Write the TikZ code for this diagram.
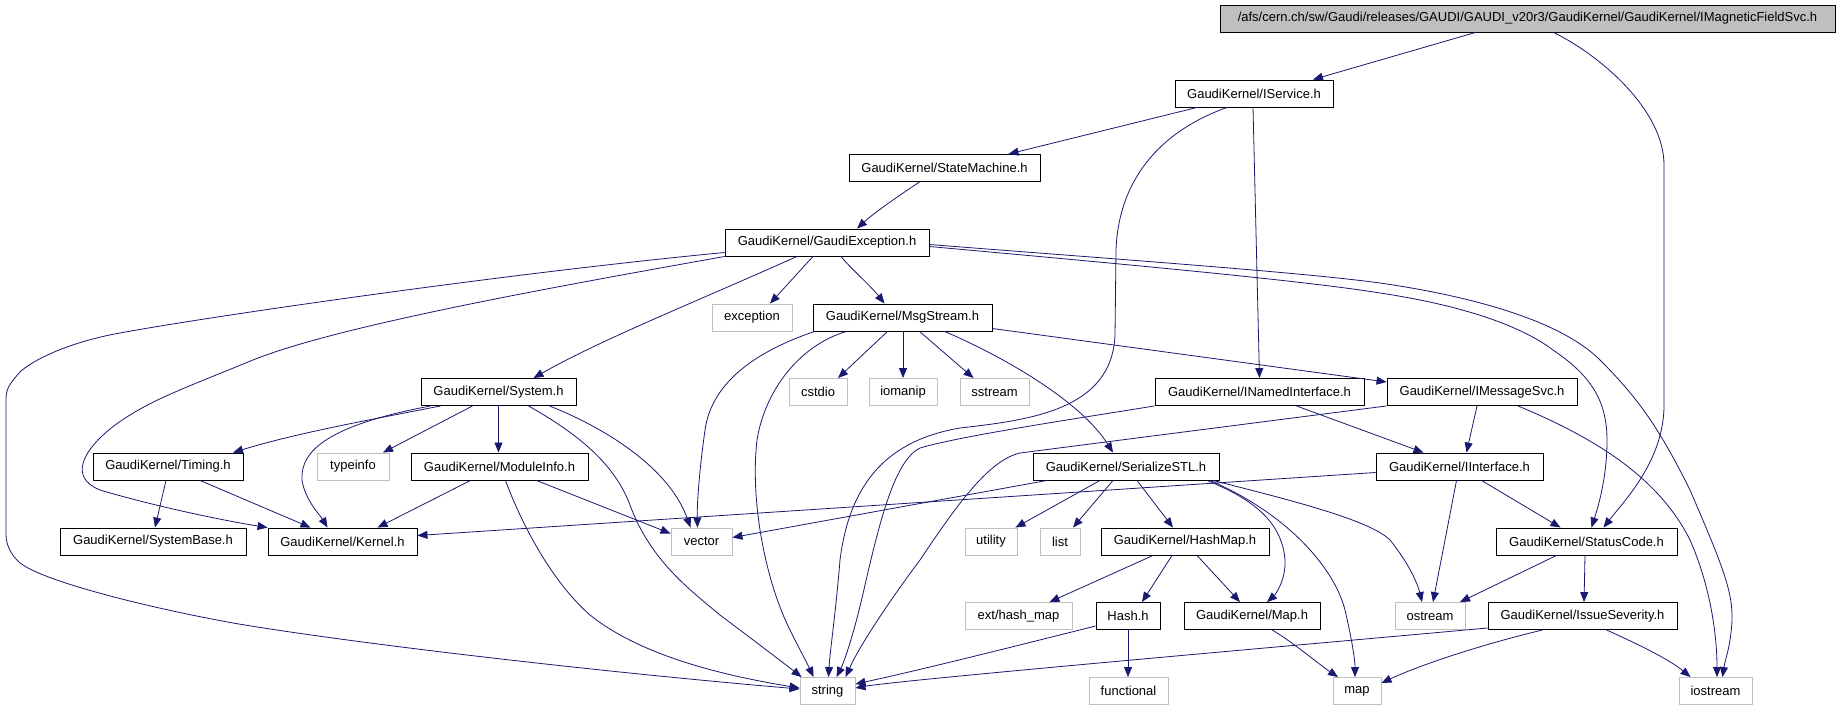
\documentclass[tikz,border=0pt]{standalone}
\usepackage{fontspec}
\setmainfont{Liberation Sans}
\usetikzlibrary{arrows.meta}
\definecolor{edgec}{HTML}{191970}
\definecolor{sysgray}{HTML}{BFBFBF}
\tikzset{
  incl/.style={draw=black, line width=0.9pt, minimum height=27pt, inner sep=0pt, font=\fontsize{13}{15}\selectfont},
  sys/.style={incl, draw=sysgray},
  edge/.style={draw=edgec, line width=0.8pt, -{Triangle[length=10pt,width=8pt]}},
}
\begin{document}
\begin{tikzpicture}[x=1pt,y=-1pt]
\useasboundingbox[fill=white] (0,0) rectangle (1838,709);
% nodes
\node[incl, fill=sysgray, minimum width=615pt] (root) at (1527.5,18.5) {/afs/cern.ch/sw/Gaudi/releases/GAUDI/GAUDI\_v20r3/GaudiKernel/GaudiKernel/IMagneticFieldSvc.h};
\node[incl, minimum width=158pt] (isvc) at (1254,93.5) {GaudiKernel/IService.h};
\node[incl, minimum width=191pt] (sm) at (944.5,168) {GaudiKernel/StateMachine.h};
\node[incl, minimum width=204pt] (ge) at (827,242.5) {GaudiKernel/GaudiException.h};
\node[sys, minimum width=80pt] (exc) at (752,317.5) {exception};
\node[incl, minimum width=179pt] (ms) at (902.5,317.5) {GaudiKernel/MsgStream.h};
\node[incl, minimum width=155pt] (sys) at (498.5,392) {GaudiKernel/System.h};
\node[sys, minimum width=58pt] (cstdio) at (818,392) {cstdio};
\node[sys, minimum width=68pt] (iomanip) at (903,392) {iomanip};
\node[sys, minimum width=69pt] (sstream) at (994.5,392) {sstream};
\node[incl, minimum width=209pt] (ini) at (1259.5,392) {GaudiKernel/INamedInterface.h};
\node[incl, minimum width=190pt] (imsg) at (1482,392) {GaudiKernel/IMessageSvc.h};
\node[incl, minimum width=150pt] (timing) at (168,466.5) {GaudiKernel/Timing.h};
\node[sys, minimum width=72pt] (typeinfo) at (353,466.5) {typeinfo};
\node[incl, minimum width=177pt] (modinfo) at (499.5,466.5) {GaudiKernel/ModuleInfo.h};
\node[incl, minimum width=186pt] (ser) at (1126,466.5) {GaudiKernel/SerializeSTL.h};
\node[incl, minimum width=167pt] (iif) at (1459.5,466.5) {GaudiKernel/IInterface.h};
\node[incl, minimum width=186pt] (sysbase) at (153,541.5) {GaudiKernel/SystemBase.h};
\node[incl, minimum width=149pt] (kernel) at (342.5,541.5) {GaudiKernel/Kernel.h};
\node[sys, minimum width=61pt] (vector) at (701.5,541.5) {vector};
\node[sys, minimum width=52pt] (utility) at (991,541.5) {utility};
\node[sys, minimum width=40pt] (list) at (1060,541.5) {list};
\node[incl, minimum width=168pt] (hashmap) at (1185,541.5) {GaudiKernel/HashMap.h};
\node[incl, minimum width=181pt] (sc) at (1586.5,541.5) {GaudiKernel/StatusCode.h};
\node[sys, minimum width=107pt] (exthm) at (1018.5,616) {ext/hash\_map};
\node[incl, minimum width=64pt] (hash) at (1128,616) {Hash.h};
\node[incl, minimum width=136pt] (gmap) at (1252,616) {GaudiKernel/Map.h};
\node[sys, minimum width=70pt] (ostream) at (1430,616) {ostream};
\node[incl, minimum width=189pt] (isev) at (1582.5,616) {GaudiKernel/IssueSeverity.h};
\node[sys, minimum width=55pt] (string) at (827.5,691) {string};
\node[sys, minimum width=79pt] (functional) at (1128.5,691) {functional};
\node[sys, minimum width=48pt] (map) at (1357,691) {map};
\node[sys, minimum width=73pt] (iostream) at (1715.5,691) {iostream};
% edges
\path[edge] ([xshift=-52]root.south) -- ([xshift=59]isvc.north);
\path[edge] ([xshift=26]root.south) .. controls (1600,55) and (1664,110) .. (1664,165) -- (1664,405) .. controls (1664,460) and (1625,500) .. ([xshift=17]sc.north);
\path[edge] ([xshift=-57]isvc.south) -- ([xshift=64]sm.north);
\path[edge] ([xshift=-27]isvc.south) .. controls (1150,135) and (1118,190) .. (1116,250) -- (1115,335) .. controls (1112,410) and (1030,420) .. (960,428) .. controls (890,440) and (850,480) .. (840,560) .. controls (835,620) and (830,650) .. ([xshift=1]string.north);
\path[edge] ([xshift=-1]isvc.south) -- (ini.north);
\path[edge] ([xshift=-25]sm.south) .. controls (900,195) and (875,212) .. ([xshift=30]ge.north);
\path[edge] ([xshift=-14]ge.south) -- ([xshift=18]exc.north);
\path[edge] ([xshift=14]ge.south) .. controls (850,268) and (870,285) .. ([xshift=-18]ms.north);
\path[edge] ([xshift=-30]ge.south) .. controls (700,300) and (600,340) .. ([xshift=35]sys.north);
\path[edge] (ge.south west) .. controls (560,286) and (340,325) .. (253,360) .. controls (180,390) and (150,400) .. (115,425) .. controls (80,452) and (70,478) .. (100,490) .. controls (150,505) and (220,520) .. (kernel.north west);
\path[edge] ([yshift=-10]ge.west) .. controls (500,274) and (200,318) .. (120,333) .. controls (80,340) and (40,355) .. (21,371) .. controls (8,385) and (6,390) .. (6,400) -- (6,535) .. controls (6,548) and (15,560) .. (23,565) .. controls (50,583) and (150,608) .. (233,623) .. controls (350,643) and (600,672) .. ([yshift=2]string.west);
\path[edge] ([yshift=-4]ge.east) .. controls (1100,262) and (1300,280) .. (1380,293) .. controls (1460,305) and (1520,325) .. (1553,350) .. controls (1590,375) and (1607,400) .. (1607,440) .. controls (1607,480) and (1597,510) .. ([xshift=5]sc.north);
\path[edge] ([yshift=-2]ge.east) .. controls (1100,258) and (1300,272) .. (1380,283) .. controls (1470,296) and (1560,320) .. (1600,360) .. controls (1640,400) and (1660,430) .. (1690,490) .. controls (1720,560) and (1733,590) .. (1732,620) .. controls (1731,645) and (1725,660) .. ([xshift=7]iostream.north);
% MsgStream
\path[edge] ([xshift=-15]ms.south) -- ([xshift=20]cstdio.north);
\path[edge] ([xshift=0.5]ms.south) -- (iomanip.north);
\path[edge] ([xshift=17]ms.south) -- ([xshift=-21]sstream.north);
\path[edge] ([xshift=42]ms.south) .. controls (1000,355) and (1080,400) .. ([xshift=-13]ser.north);
\path[edge] ([yshift=-11]ms.east) -- ([yshift=10]imsg.west);
\path[edge] ([xshift=-88]ms.south) .. controls (760,350) and (712,380) .. (705,430) .. controls (698,480) and (697,510) .. ([xshift=-4]vector.north);
\path[edge] ([xshift=-56]ms.south) .. controls (800,345) and (765,390) .. (757,440) .. controls (750,500) and (765,580) .. (790,630) .. controls (800,650) and (808,665) .. ([xshift=-14]string.north);
% System
\path[edge] ([xshift=-58]sys.south) .. controls (380,418) and (300,432) .. ([xshift=65]timing.north);
\path[edge] ([xshift=-26]sys.south) -- ([xshift=30]typeinfo.north);
\path[edge] ([xshift=-68]sys.south) .. controls (330,425) and (300,450) .. (302,480) .. controls (305,500) and (320,515) .. ([xshift=-15]kernel.north);
\path[edge] (sys.south) -- ([xshift=-1]modinfo.north);
\path[edge] ([xshift=51]sys.south) .. controls (610,430) and (670,470) .. ([xshift=-11]vector.north);
\path[edge] ([xshift=30]sys.south) .. controls (580,435) and (615,465) .. (630,505) .. controls (650,560) and (690,590) .. (720,615) .. controls (760,645) and (790,668) .. ([xshift=2]string.north west);
% Timing
\path[edge] ([xshift=-2]timing.south) -- ([xshift=2]sysbase.north);
\path[edge] ([xshift=32]timing.south) -- ([xshift=-32]kernel.north);
% ModuleInfo
\path[edge] ([xshift=-29]modinfo.south) -- ([xshift=35]kernel.north);
\path[edge] ([xshift=37]modinfo.south) -- ([yshift=8]vector.west);
\path[edge] ([xshift=6]modinfo.south) .. controls (520,520) and (550,580) .. (590,615) .. controls (640,655) and (720,675) .. ([yshift=3]string.west);
% INamedInterface
\path[edge] (ini.south west) .. controls (1080,418) and (960,436) .. (920,448) .. controls (895,460) and (880,520) .. (865,585) .. controls (855,630) and (845,660) .. ([xshift=9]string.north);
\path[edge] ([xshift=37]ini.south) -- ([xshift=-36]iif.north);
% IMessageSvc
\path[edge] (imsg.south west) -- (1020,453) .. controls (990,460) and (960,500) .. (920,560) .. controls (890,600) and (860,645) .. ([xshift=18]string.north);
\path[edge] ([xshift=-5]imsg.south) -- ([xshift=7]iif.north);
\path[edge] ([xshift=36]imsg.south) .. controls (1600,440) and (1660,480) .. (1690,540) .. controls (1712,590) and (1717,640) .. ([xshift=1.5]iostream.north);
% SerializeSTL
\path[edge] ([xshift=-79]ser.south) -- ([yshift=4]vector.east);
\path[edge] ([xshift=-26]ser.south) -- ([xshift=-2]utility.north east);
\path[edge] ([xshift=-13]ser.south) -- ([xshift=13]list.north);
\path[edge] ([xshift=11]ser.south) -- ([xshift=-12]hashmap.north);
\path[edge] ([xshift=81]ser.south) .. controls (1250,498) and (1282,520) .. (1285,560) .. controls (1286,580) and (1275,595) .. ([xshift=15]gmap.north);
\path[edge] ([xshift=84]ser.south) .. controls (1290,515) and (1335,570) .. (1345,610) .. controls (1352,640) and (1355,660) .. ([xshift=-2]map.north);
\path[edge] ([xshift=87]ser.south) .. controls (1290,500) and (1370,520) .. (1390,540) .. controls (1410,565) and (1418,585) .. ([xshift=-8]ostream.north);
% IInterface
\path[edge] ([yshift=-6]iif.west) -- ([yshift=6]kernel.east);
\path[edge] ([xshift=-3]iif.south) -- ([xshift=3]ostream.north);
\path[edge] ([xshift=22]iif.south) -- ([xshift=-26]sc.north);
% StatusCode
\path[edge] ([xshift=-30]sc.south) -- ([xshift=30]ostream.north);
\path[edge] ([xshift=-1.5]sc.south) -- ([xshift=1.5]isev.north);
% HashMap
\path[edge] ([xshift=-32]hashmap.south) -- ([xshift=31]exthm.north);
\path[edge] ([xshift=-13]hashmap.south) -- ([xshift=14]hash.north);
\path[edge] ([xshift=12]hashmap.south) -- ([xshift=-12]gmap.north);
% Hash
\path[edge] (hash.south) -- ([xshift=-0.5]functional.north);
\path[edge] ([yshift=-10]hash.west) .. controls (1000,650) and (920,670) .. ([yshift=7]string.east);
% Map
\path[edge] ([xshift=20]gmap.south) .. controls (1290,640) and (1320,665) .. ([xshift=-19]map.north);
% IssueSeverity
\path[edge] ([yshift=-12]isev.west) .. controls (1300,645) and (900,680) .. ([yshift=3]string.east);
\path[edge] ([xshift=-40]isev.south) .. controls (1480,645) and (1420,665) .. ([yshift=8]map.east);
\path[edge] ([xshift=24]isev.south) .. controls (1640,645) and (1670,660) .. ([xshift=-25]iostream.north);
\end{tikzpicture}
\end{document}
